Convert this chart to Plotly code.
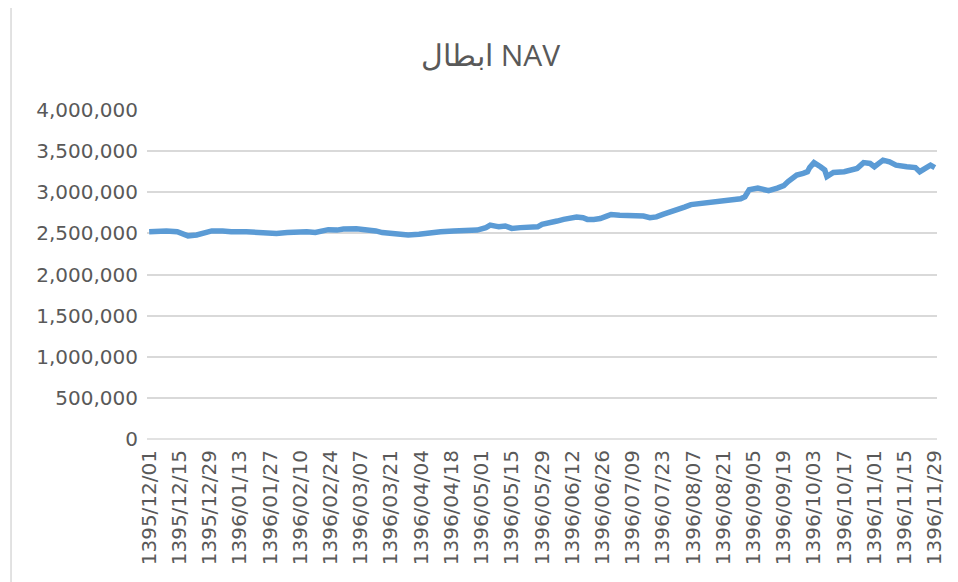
import plotly.graph_objects as go

# Persian (Jalali) dates of the readings and the NAV values
dates = ["1395/12/01","1395/12/05","1395/12/09","1395/12/14","1395/12/16","1395/12/19","1395/12/23","1395/12/27","1395/12/30",
         "1396/01/05","1396/01/09","1396/01/16","1396/01/22","1396/01/25","1396/01/30",
         "1396/02/04","1396/02/08","1396/02/13","1396/02/17","1396/02/21","1396/02/23","1396/02/27","1396/02/30",
         "1396/03/05","1396/03/09","1396/03/14","1396/03/17","1396/03/22","1396/03/25","1396/03/29",
         "1396/04/03","1396/04/08","1396/04/13","1396/04/19","1396/04/24","1396/04/30",
         "1396/05/03","1396/05/05","1396/05/08","1396/05/09","1396/05/12","1396/05/15","1396/05/19","1396/05/23","1396/05/27","1396/05/29",
         "1396/06/01","1396/06/05","1396/06/08","1396/06/12","1396/06/14","1396/06/17","1396/06/19","1396/06/22","1396/06/25","1396/06/28","1396/06/30",
         "1396/07/03","1396/07/07","1396/07/11","1396/07/14","1396/07/17","1396/07/20","1396/07/23","1396/07/27","1396/07/29",
         "1396/08/03","1396/08/06","1396/08/09","1396/08/15","1396/08/21","1396/08/26","1396/08/29",
         "1396/09/01","1396/09/03","1396/09/07","1396/09/12","1396/09/16","1396/09/19","1396/09/21","1396/09/23","1396/09/25","1396/09/28","1396/09/30",
         "1396/10/01","1396/10/03","1396/10/06","1396/10/08","1396/10/09","1396/10/12","1396/10/17","1396/10/23","1396/10/26","1396/10/29",
         "1396/11/01","1396/11/05","1396/11/08","1396/11/11","1396/11/16","1396/11/20","1396/11/22","1396/11/24","1396/11/27","1396/11/29"]

nav = [2520000,2530000,2530000,2520000,2500000,2470000,2480000,2510000,2530000,
       2530000,2520000,2520000,2510000,2500000,2500000,
       2510000,2520000,2520000,2510000,2530000,2545000,2540000,2553000,
       2555000,2550000,2530000,2510000,2500000,2490000,2480000,
       2490000,2510000,2520000,2530000,2535000,2540000,
       2570000,2600000,2585000,2580000,2590000,2560000,2570000,2575000,2580000,2610000,
       2620000,2650000,2670000,2680000,2700000,2690000,2670000,2670000,2680000,2710000,2730000,
       2720000,2720000,2720000,2710000,2690000,2700000,2730000,2760000,2790000,
       2820000,2850000,2860000,2885000,2900000,2905000,2920000,
       2945000,3030000,3050000,3020000,3050000,3080000,3130000,3170000,3210000,3230000,3250000,
       3300000,3360000,3310000,3270000,3190000,3240000,3250000,3290000,3360000,3350000,
       3310000,3390000,3370000,3330000,3310000,3300000,3250000,3280000,3330000,3300000]

tick_labels = ["1395/12/01","1395/12/15","1395/12/29","1396/01/13","1396/01/27","1396/02/10","1396/02/24",
               "1396/03/07","1396/03/21","1396/04/04","1396/04/18","1396/05/01","1396/05/15","1396/05/29",
               "1396/06/12","1396/06/26","1396/07/09","1396/07/23","1396/08/07","1396/08/21","1396/09/05",
               "1396/09/19","1396/10/03","1396/10/17","1396/11/01","1396/11/15","1396/11/29"]

y_ticks = [0, 500000, 1000000, 1500000, 2000000, 2500000, 3000000, 3500000, 4000000]

assert len(dates) == len(nav)

MONTHS_1396 = [31]*6 + [30]*5 + [29]

def day_index(s):
    y, m, d = map(int, s.split("/"))
    if y == 1395:  # Esfand 1395 (30 days)
        return d - 1
    return 30 + sum(MONTHS_1396[:m-1]) + d - 1

x_vals = [day_index(s) for s in dates]
tick_vals = [day_index(s) for s in tick_labels]

TICK_FONT = "DejaVu Sans"
TITLE_FONT = "Open Sans"
GRAY = "#595959"

# page body has an 8px margin, so the figure is 8px smaller and shifted
W, H = 950, 574
ML, MR, MT, MB = 139, 15, 102, 143
plot_w = W - ML - MR

fig = go.Figure()
fig.add_trace(go.Scatter(
    x=x_vals, y=nav, mode="lines",
    line=dict(color="#5B9BD5", width=5.5),
    text=dates, hovertemplate="%{text}<br>%{y:,}<extra></extra>",
    showlegend=False,
))

fig.update_layout(
    width=W, height=H,
    margin=dict(l=ML, r=MR, t=MT, b=MB),
    paper_bgcolor="white", plot_bgcolor="white",
    title=dict(text="ابطال NAV", x=0.508, xanchor="center", y=1 - 47 / H, yanchor="middle",
               font=dict(family=TITLE_FONT, size=30, color=GRAY)),
    font=dict(family=TICK_FONT, color=GRAY),
    xaxis=dict(
        range=[-1, 365],
        tickmode="array", tickvals=tick_vals, ticktext=tick_labels,
        tickangle=-90, tickfont=dict(family=TICK_FONT, size=20, color=GRAY),
        ticklabelstandoff=6,
        showgrid=False, zeroline=False, showline=False,
        ticks="",
    ),
    yaxis=dict(
        range=[0, 4000000],
        tickmode="array", tickvals=y_ticks,
        ticktext=[f"{v:,}" for v in y_ticks],
        tickfont=dict(family=TICK_FONT, size=20, color=GRAY),
        ticklabelstandoff=8,
        showgrid=True, gridcolor="#D9D9D9", gridwidth=1.5,
        zeroline=False, showline=False, ticks="",
    ),
    shapes=[
        dict(type="line", xref="paper", yref="paper", x0=0, x1=1, y0=0, y1=0,
             line=dict(color="#D9D9D9", width=1.5), layer="below"),
        dict(type="line", xref="paper", yref="paper",
             x0=(2 - ML) / plot_w, x1=(2 - ML) / plot_w,
             y0=-MB / (H - MT - MB), y1=1 + MT / (H - MT - MB),
             line=dict(color="#D9D9D9", width=1.5), layer="below"),
    ],
)

fig.write_html("out.html")
